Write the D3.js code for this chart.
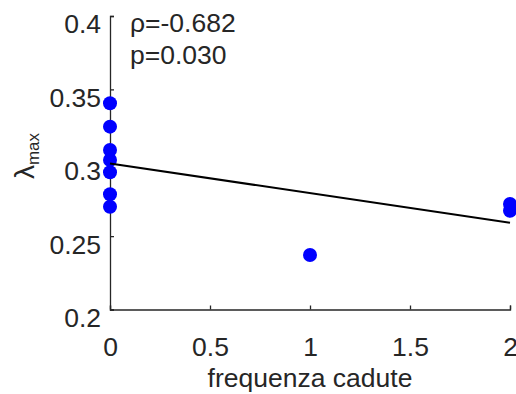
<!DOCTYPE html>
<html>
<head>
<meta charset="utf-8">
<script src="https://cdn.jsdelivr.net/npm/d3@7"></script>
<style>
  html, body { margin: 0; padding: 0; background: #fff; }
  svg { display: block; font-family: "Liberation Sans", Arial, sans-serif; }
</style>
</head>
<body>
<svg id="chart" width="516" height="394"></svg>
<script>
// Falls frequency vs. maximum Lyapunov exponent
const fallFreq = [0, 0, 0, 0, 0, 0, 0, 1, 2, 2];
const lambdaMax = [0.3405, 0.3246, 0.3087, 0.3019, 0.2935, 0.2785, 0.2700, 0.2371, 0.2719, 0.2673];
const xTicks = [0, 0.5, 1, 1.5, 2];
const yTicks = [0.2, 0.25, 0.3, 0.35, 0.4];
const statLines = ["ρ=-0.682", "p=0.030"];

const svg = d3.select("#chart");
const ink = "#262626";
const fontSize = 26.5;
const margin = { left: 110, right: 6, top: 16, bottom: 84.5 };
const W = 516, H = 394;

const x = d3.scaleLinear().domain([0, 2]).range([margin.left, W - margin.right]);
const y = d3.scaleLinear().domain([0.2, 0.4]).range([H - margin.bottom, margin.top]);

// least-squares fit line
const mx = d3.mean(fallFreq), my = d3.mean(lambdaMax);
let sxy = 0, sxx = 0;
fallFreq.forEach((xi, i) => { sxy += (xi - mx) * (lambdaMax[i] - my); sxx += (xi - mx) ** 2; });
const slope = sxy / sxx, intercept = my - slope * mx;

// x axis
const gx = svg.append("g").attr("transform", `translate(0,${y(0.2)})`)
  .call(d3.axisBottom(x).tickValues(xTicks).tickFormat(d3.format("")).tickSize(-4).tickPadding(28));
// y axis
const gy = svg.append("g").attr("transform", `translate(${x(0)},0)`)
  .call(d3.axisLeft(y).tickValues(yTicks).tickFormat(d3.format("")).tickSize(-4).tickPadding(9));

[gx, gy].forEach(g => {
  g.select(".domain").attr("stroke", ink).attr("stroke-width", 1.3);
  g.selectAll(".tick line").attr("stroke", ink).attr("stroke-width", 1.3);
  g.selectAll(".tick text").attr("fill", ink).attr("font-size", fontSize)
    .attr("font-family", "'Liberation Sans', Arial, sans-serif");
});
gx.selectAll(".tick text").attr("dy", "0.71em");
gy.selectAll(".tick text").attr("dy", "0.32em").attr("y", 8.5);

// points
svg.append("g").selectAll("circle")
  .data(fallFreq.map((d, i) => [d, lambdaMax[i]]))
  .join("circle")
  .attr("cx", d => x(d[0])).attr("cy", d => y(d[1])).attr("r", 7)
  .attr("fill", "#0000ff");

// regression line
svg.append("line")
  .attr("x1", x(0)).attr("y1", y(intercept))
  .attr("x2", x(2)).attr("y2", y(intercept + slope * 2))
  .attr("stroke", "#000").attr("stroke-width", 2);

// correlation stats
svg.append("g").selectAll("text").data(statLines).join("text")
  .attr("x", 130).attr("y", (d, i) => 32 + i * 31.5)
  .attr("fill", ink).attr("font-size", fontSize).text(d => d);

// axis labels
svg.append("text").attr("x", x(1)).attr("y", 386.5)
  .attr("text-anchor", "middle").attr("fill", ink).attr("font-size", fontSize)
  .text("frequenza cadute");

const yl = svg.append("text").attr("transform", "translate(34,156) rotate(-90)")
  .attr("text-anchor", "middle").attr("fill", ink).attr("font-size", 28);
yl.append("tspan").text("λ");
yl.append("tspan").attr("font-size", 17).attr("dy", 5).text("max");
</script>
</body>
</html>
